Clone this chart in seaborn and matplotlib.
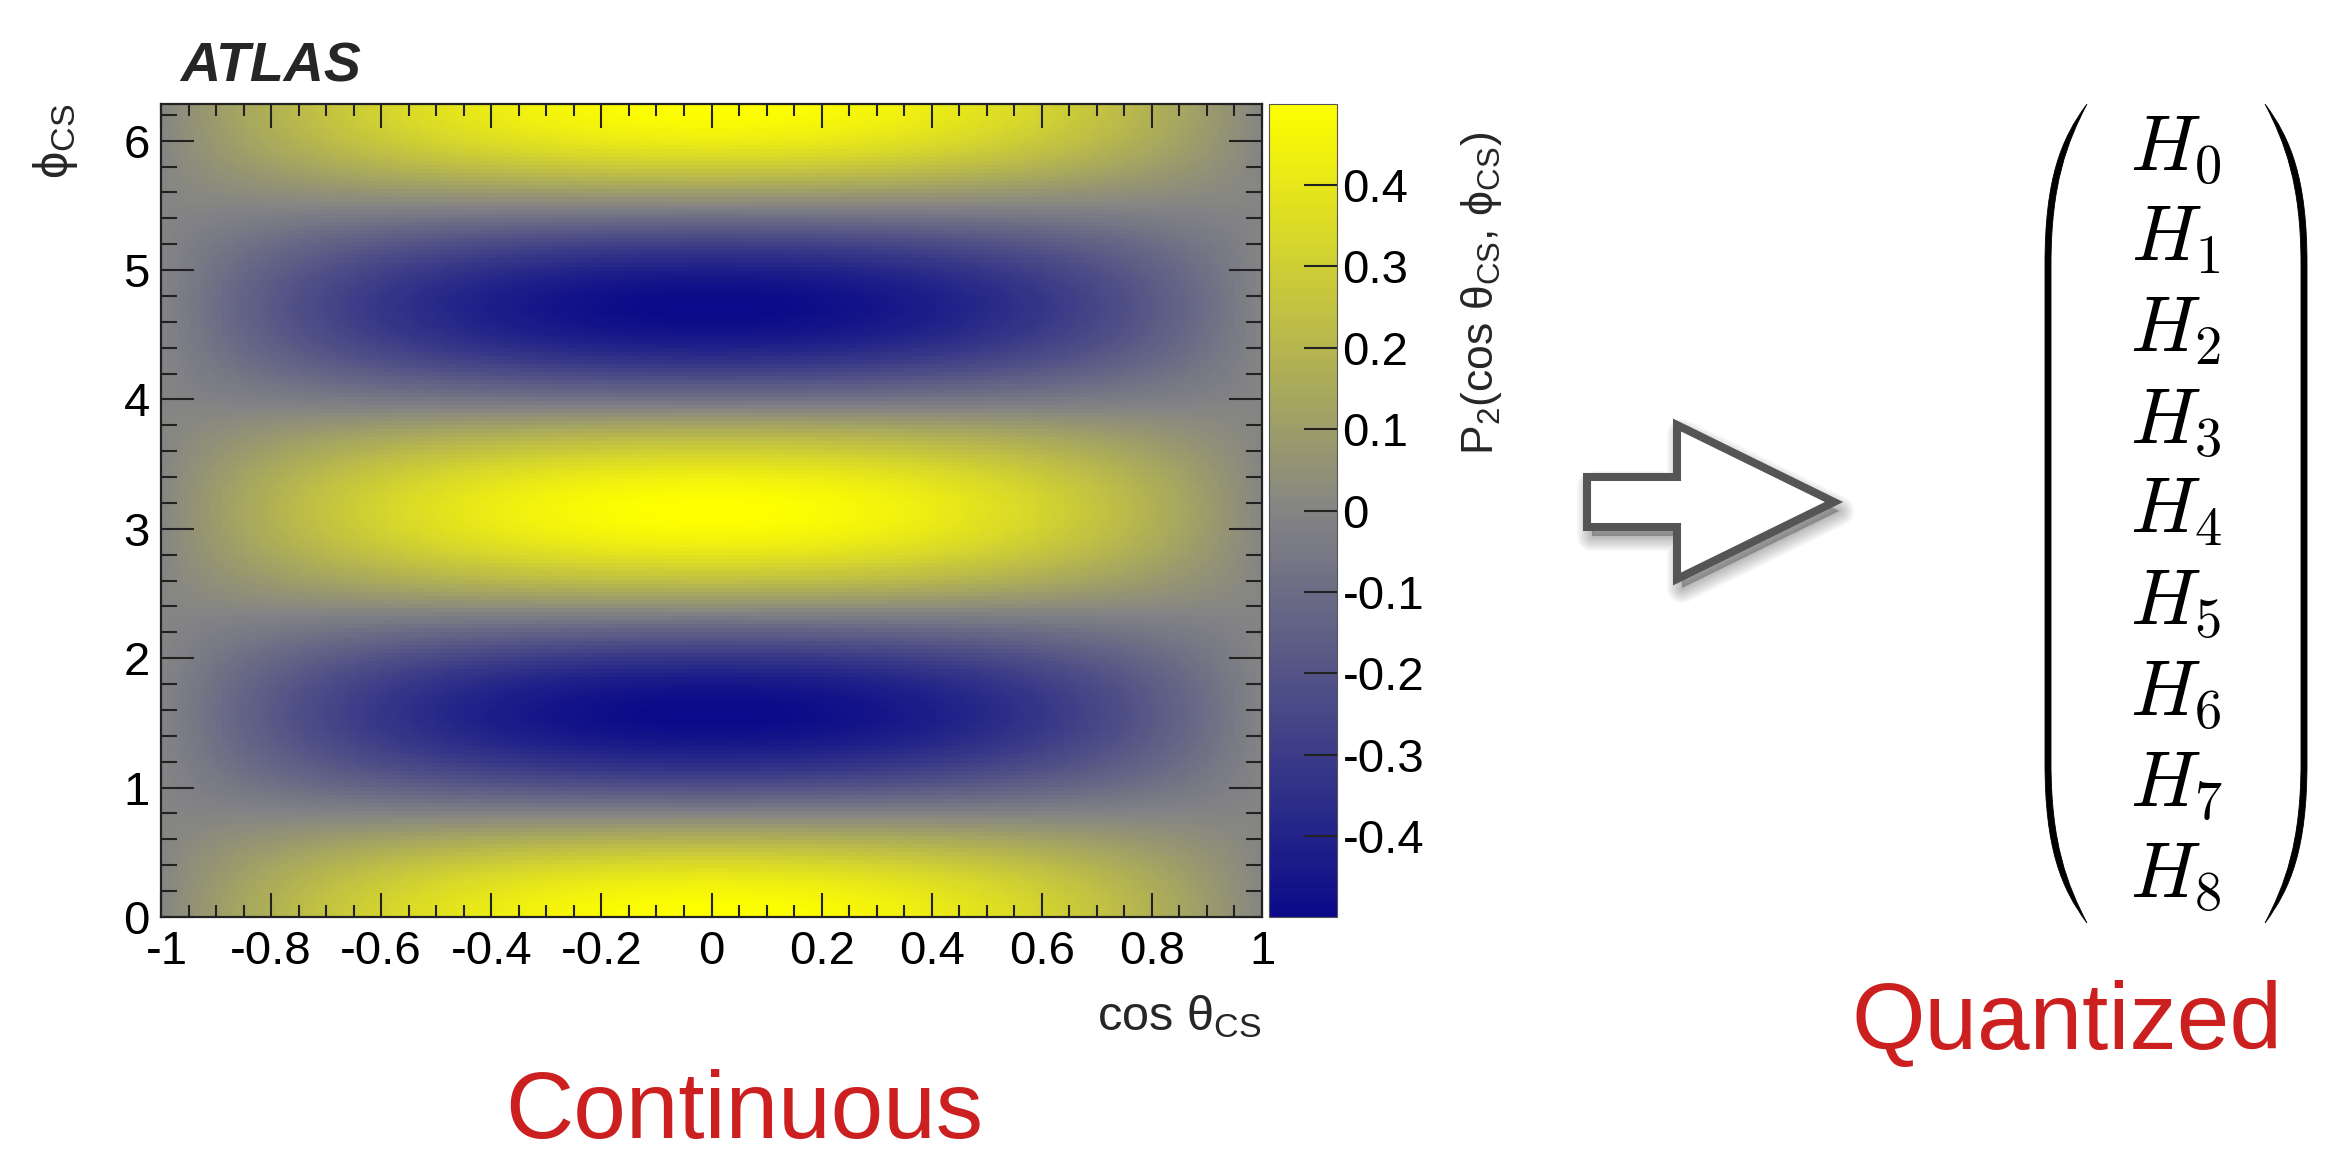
import numpy as np
import pandas as pd
import matplotlib
matplotlib.use("Agg")
import matplotlib.pyplot as plt
import matplotlib.transforms as mtransforms
from matplotlib.colors import LinearSegmentedColormap
from matplotlib.patches import Polygon, PathPatch
from matplotlib.path import Path
from matplotlib.ticker import FixedLocator, FixedFormatter, NullFormatter
import seaborn as sns

# ---------------- data ----------------
cos_theta_range = [-1.0, 1.0]
phi_range = [0.0, 2 * np.pi]
n_cos_bins = 200
n_phi_bins = 200
p2_amplitude = 0.5          # P2(cos th, phi) = 0.5 * sin^2(th) * cos(2 phi)

x_ticks = [-1, -0.8, -0.6, -0.4, -0.2, 0, 0.2, 0.4, 0.6, 0.8, 1]
x_tick_labels = ["-1", "-0.8", "-0.6", "-0.4", "-0.2", "0", "0.2", "0.4", "0.6", "0.8", "1"]
x_minor_step = 0.05
y_ticks = [0, 1, 2, 3, 4, 5, 6]
y_tick_labels = ["0", "1", "2", "3", "4", "5", "6"]
y_minor_step = 0.2
cbar_ticks = [-0.4, -0.3, -0.2, -0.1, 0, 0.1, 0.2, 0.3, 0.4]
cbar_tick_labels = ["-0.4", "-0.3", "-0.2", "-0.1", "0", "0.1", "0.2", "0.3", "0.4"]
vector_labels = [r"$H_{0}$", r"$H_{1}$", r"$H_{2}$", r"$H_{3}$", r"$H_{4}$",
                 r"$H_{5}$", r"$H_{6}$", r"$H_{7}$", r"$H_{8}$"]
title_left = "Continuous"
title_right = "Quantized"

# histogram bin centres and content
cos_edges = np.linspace(cos_theta_range[0], cos_theta_range[1], n_cos_bins + 1)
phi_edges = np.linspace(phi_range[0], phi_range[1], n_phi_bins + 1)
cos_c = 0.5 * (cos_edges[:-1] + cos_edges[1:])
phi_c = 0.5 * (phi_edges[:-1] + phi_edges[1:])
CC, PP = np.meshgrid(cos_c, phi_c)
Z = p2_amplitude * (1 - CC ** 2) * np.cos(2 * PP)
df = pd.DataFrame(Z, index=np.round(phi_c, 4), columns=np.round(cos_c, 4))

# ---------------- style ----------------
sns.set_style("white")
plt.rcParams["font.family"] = ["Liberation Sans", "DejaVu Sans"]
plt.rcParams["mathtext.fontset"] = "custom"
plt.rcParams["mathtext.rm"] = "Liberation Sans"
plt.rcParams["mathtext.it"] = "Liberation Sans:italic"
plt.rcParams["mathtext.bf"] = "Liberation Sans:bold"
plt.rcParams["mathtext.fallback"] = "stixsans"

W, H = 2332, 1154
fig = plt.figure(figsize=(W / 100, H / 100), dpi=100)
fig.patch.set_facecolor("white")


def fx(px):
    return px / W


def fy(py):
    return 1 - py / H


L, R, T, B = 161, 1262, 104, 917
ax = fig.add_axes([fx(L), fy(B), fx(R) - fx(L), fy(T) - fy(B)])
cax = fig.add_axes([fx(1269), fy(B), fx(1337) - fx(1269), fy(T) - fy(B)])

cmap = LinearSegmentedColormap.from_list(
    "atlas_p2", [(0.04, 0.04, 0.54), (0.52, 0.52, 0.52), (1.0, 1.0, 0.0)])

sns.heatmap(df, ax=ax, cbar_ax=cax, cmap=cmap, vmin=Z.min(), vmax=Z.max(),
            xticklabels=False, yticklabels=False, rasterized=True,
            cbar_kws={"ticks": cbar_ticks})

ax.set_xlim(0, n_cos_bins)
ax.set_ylim(0, n_phi_bins)
ax.set_xlabel("")
ax.set_ylabel("")
ax.set_axisbelow(False)
cax.set_axisbelow(False)


def xi(v):
    return (v - cos_theta_range[0]) / (cos_theta_range[1] - cos_theta_range[0]) * n_cos_bins


def yi(v):
    return (v - phi_range[0]) / (phi_range[1] - phi_range[0]) * n_phi_bins


x_minor = np.arange(cos_theta_range[0], cos_theta_range[1] + 1e-9, x_minor_step)
y_minor = np.arange(phi_range[0], phi_range[1], y_minor_step)

ax.xaxis.set_major_locator(FixedLocator([xi(v) for v in x_ticks]))
ax.xaxis.set_major_formatter(FixedFormatter(x_tick_labels))
ax.xaxis.set_minor_locator(FixedLocator([xi(v) for v in x_minor]))
ax.xaxis.set_minor_formatter(NullFormatter())
ax.yaxis.set_major_locator(FixedLocator([yi(v) for v in y_ticks]))
ax.yaxis.set_major_formatter(FixedFormatter(y_tick_labels))
ax.yaxis.set_minor_locator(FixedLocator([yi(v) for v in y_minor]))
ax.yaxis.set_minor_formatter(NullFormatter())

for sp in ax.spines.values():
    sp.set_visible(True)
    sp.set_linewidth(1.6)
    sp.set_color("#222222")
    sp.set_zorder(5)

tick_col = "#222222"
ax.tick_params(axis="x", which="major", direction="in", length=17.5, width=1.5,
               top=True, bottom=True, labelsize=34, pad=9, colors=tick_col,
               labelcolor="black", labelrotation=0)
ax.tick_params(axis="x", which="minor", direction="in", length=8.7, width=1.5,
               top=True, bottom=True, colors=tick_col)
ax.tick_params(axis="y", which="major", direction="in", length=23.5, width=1.5,
               left=True, right=True, labelsize=34, pad=8, colors=tick_col,
               labelcolor="black", labelrotation=0)
ax.tick_params(axis="y", which="minor", direction="in", length=11.7, width=1.5,
               left=True, right=True, colors=tick_col)

# nudge the first x label ("-1") slightly right, as in the ROOT original
first_tick = ax.xaxis.get_major_ticks()[0]
first_tick.label1.set_transform(first_tick.label1.get_transform() +
                                mtransforms.ScaledTranslation(6 / 100, 0, fig.dpi_scale_trans))

cbar = ax.collections[0].colorbar
cbar.set_ticks(cbar_ticks)
cbar.set_ticklabels(cbar_tick_labels)
cbar.ax.minorticks_off()
cbar.outline.set_linewidth(0.8)
cbar.outline.set_edgecolor("#555555")
cax.tick_params(axis="y", which="major", direction="in", length=24, width=1.5,
                right=True, left=False, labelright=True, labelleft=False,
                labelsize=34, pad=4, colors=tick_col, labelcolor="black")

# axis titles (ROOT style)
fig.text(fx(1261), fy(1030), r"cos $\mathrm{\theta_{CS}}$", fontsize=35,
         ha="right", va="baseline")
fig.text(fx(56), fy(104), r"$\mathrm{\phi_{CS}}$", fontsize=35, rotation=90,
         ha="center", va="top")
fig.text(fx(1481), fy(132), r"P$_{\mathrm{2}}$(cos $\mathrm{\theta_{CS}}$, $\mathrm{\phi_{CS}}$)",
         fontsize=32, rotation=90, ha="center", va="top")
fig.text(fx(180), fy(82), "ATLAS", fontsize=40, fontweight="bold", fontstyle="italic",
         ha="left", va="baseline")

# ---------------- overlay: arrow, vector, captions ----------------
ov = fig.add_axes([0, 0, 1, 1])
ov.set_xlim(0, W)
ov.set_ylim(H, 0)
ov.axis("off")
ov.patch.set_alpha(0)

arrow_pts = np.array([(1587, 477), (1677, 477), (1677, 425), (1834, 502),
                      (1677, 579), (1677, 527), (1587, 527)])
for k in range(1, 10):
    ov.add_patch(Polygon(arrow_pts + np.array([5, 9]), closed=True,
                         facecolor=(0, 0, 0, 0.03), edgecolor=(0, 0, 0, 0.03),
                         lw=k * 2.4, joinstyle="round"))
ov.add_patch(Polygon(arrow_pts, closed=True, facecolor="white", edgecolor="#555555",
                     lw=5.8, joinstyle="miter"))

# big parentheses
def paren(xtip, xout, xin, ytop, ybot, bend):
    verts = [(xtip, ytop),
             (xtip - 0.62 * (xtip - xout), ytop + 0.35 * bend), (xout, ytop + 0.75 * bend), (xout, ytop + 1.6 * bend),
             (xout, ybot - 1.6 * bend),
             (xout, ybot - 0.75 * bend), (xtip - 0.62 * (xtip - xout), ybot - 0.35 * bend), (xtip, ybot),
             (xtip - 0.55 * (xtip - xin), ybot - 0.38 * bend), (xin, ybot - 0.8 * bend), (xin, ybot - 1.6 * bend),
             (xin, ytop + 1.6 * bend),
             (xin, ytop + 0.8 * bend), (xtip - 0.55 * (xtip - xin), ytop + 0.38 * bend), (xtip, ytop),
             (xtip, ytop)]
    codes = [Path.MOVETO, Path.CURVE4, Path.CURVE4, Path.CURVE4, Path.LINETO,
             Path.CURVE4, Path.CURVE4, Path.CURVE4,
             Path.CURVE4, Path.CURVE4, Path.CURVE4, Path.LINETO,
             Path.CURVE4, Path.CURVE4, Path.CURVE4, Path.CLOSEPOLY]
    return PathPatch(Path(verts, codes), facecolor="black", edgecolor="black", lw=0.6)


ov.add_patch(paren(2087, 2045, 2051, 104, 923, 100))
ov.add_patch(paren(2265, 2307, 2301, 104, 923, 100))

for i, lab in enumerate(vector_labels):
    ov.text(2176, 170 + i * 90.8, lab, fontsize=56, math_fontfamily="cm",
            ha="center", va="baseline", color="black")

red = "#cc2020"
ov.text(744, 1138, title_left, fontsize=68, color=red, ha="center", va="baseline")
ov.text(2067, 1049, title_right, fontsize=68, color=red, ha="center", va="baseline")

fig.savefig("out.png", dpi=100, facecolor="white")
